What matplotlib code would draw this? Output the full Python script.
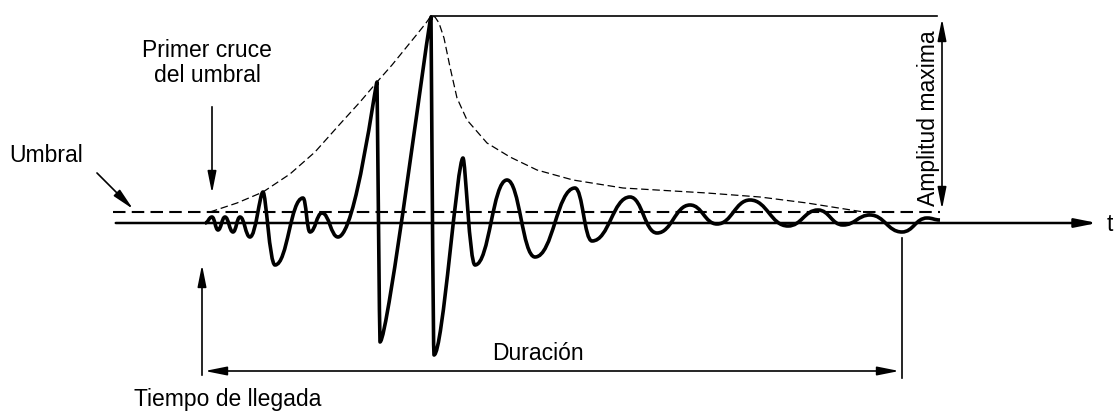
import matplotlib.pyplot as plt
from matplotlib.path import Path
from matplotlib.patches import PathPatch

plt.rcParams['font.family'] = ['Liberation Sans', 'DejaVu Sans']

# extremos de la señal (pixeles del dibujo, y hacia abajo)
wave_x = [205, 212, 218, 225, 233, 240, 250, 263, 275, 303, 310, 322, 338,
          377, 380, 431, 434, 463, 475, 507, 535, 575, 592, 630, 657, 690,
          717, 750, 788, 818, 843, 870, 902, 927, 940]
wave_y = [223, 217, 230, 217, 232, 217, 237, 192, 265, 198, 232, 213, 237,
          82, 342, 17, 355, 158, 265, 180, 257, 188, 241, 197, 233, 205,
          224, 200, 226, 210, 225, 215, 232, 218, 220]

# envolvente
env_x = [210, 237, 263, 290, 315, 340, 360, 377, 392, 405, 418, 426, 431,
         435, 439, 444, 450, 457, 467, 487, 510, 537, 573, 623, 707, 760,
         807, 870]
env_y = [212, 203, 192, 174, 152, 124, 102, 82, 65, 49, 33, 23, 16,
         17, 23, 38, 67, 98, 120, 143, 157, 170, 180, 188, 193, 197,
         203, 213]

base_y = 223
umbral_y = 212
t_llegada = 202
t_fin = 902
amp_top = 16

fig = plt.figure(figsize=(11.17, 4.11), dpi=100)
ax = fig.add_axes([0, 0, 1, 1])
ax.set_xlim(0, 1117)
ax.set_ylim(411, 0)
ax.axis('off')

# eje de tiempo y umbral
ax.annotate('', xy=(1100, base_y), xytext=(113, base_y),
            arrowprops=dict(arrowstyle='-|>,head_length=1.1,head_width=0.22',
                            mutation_scale=12, color='black', lw=1.8))
ax.text(1107, base_y + 1, 't', fontsize=16.5, va='center', ha='left')
ax.plot([113, 940], [umbral_y, umbral_y], color='black', lw=1.5,
        dashes=(6, 3))

# envolvente
ax.plot(env_x, env_y, color='black', lw=0.9, dashes=(6, 3))

# señal con curvas de bezier entre extremos; picos agudos con asa corta
asa = {7: 0.25, 13: 0.04, 14: 0.15, 15: 0.04, 16: 0.3, 17: 0.2}
verts = [(wave_x[0], wave_y[0])]
codes = [Path.MOVETO]
for i in range(1, len(wave_x)):
    x0, y0 = wave_x[i - 1], wave_y[i - 1]
    x1, y1 = wave_x[i], wave_y[i]
    dx = x1 - x0
    verts += [(x0 + dx * asa.get(i - 1, 0.45), y0),
              (x1 - dx * asa.get(i, 0.45), y1), (x1, y1)]
    codes += [Path.CURVE4, Path.CURVE4, Path.CURVE4]
ax.add_patch(PathPatch(Path(verts, codes), fill=False, lw=2.6,
                       edgecolor='black', joinstyle='round'))

flecha = dict(arrowstyle='-|>,head_length=1.1,head_width=0.22',
              mutation_scale=12, color='black', lw=1.2)
flecha2 = dict(arrowstyle='<|-|>,head_length=1.1,head_width=0.22',
               mutation_scale=12, color='black', lw=1.2)

# umbral
ax.text(9, 155, 'Umbral', fontsize=16.5, va='center', ha='left')
ax.annotate('', xy=(135, 211), xytext=(95, 171), arrowprops=flecha)

# primer cruce
ax.text(207, 63, 'Primer cruce\ndel umbral', fontsize=16.5, va='center',
        ha='center', linespacing=1.15)
ax.annotate('', xy=(212, 196), xytext=(212, 104), arrowprops=flecha)

# tiempo de llegada
ax.annotate('', xy=(t_llegada, 262), xytext=(t_llegada, 378),
            arrowprops=flecha)
ax.text(228, 399, 'Tiempo de llegada', fontsize=16.5, va='center',
        ha='center')

# duracion
ax.plot([t_fin, t_fin], [238, 378], color='black', lw=1.2)
ax.annotate('', xy=(t_llegada, 371), xytext=(t_fin, 371),
            arrowprops=flecha2)
ax.text(538, 353, 'Duración', fontsize=16.5, va='center', ha='center')

# amplitud maxima
ax.plot([431, 937], [amp_top, amp_top], color='black', lw=1.2)
ax.annotate('', xy=(942, amp_top), xytext=(942, umbral_y),
            arrowprops=flecha2)
ax.text(929, 118, 'Amplitud maxima', fontsize=16.5, va='center',
        ha='center', rotation=90)

fig.savefig('out.png', dpi=100, facecolor='white')
